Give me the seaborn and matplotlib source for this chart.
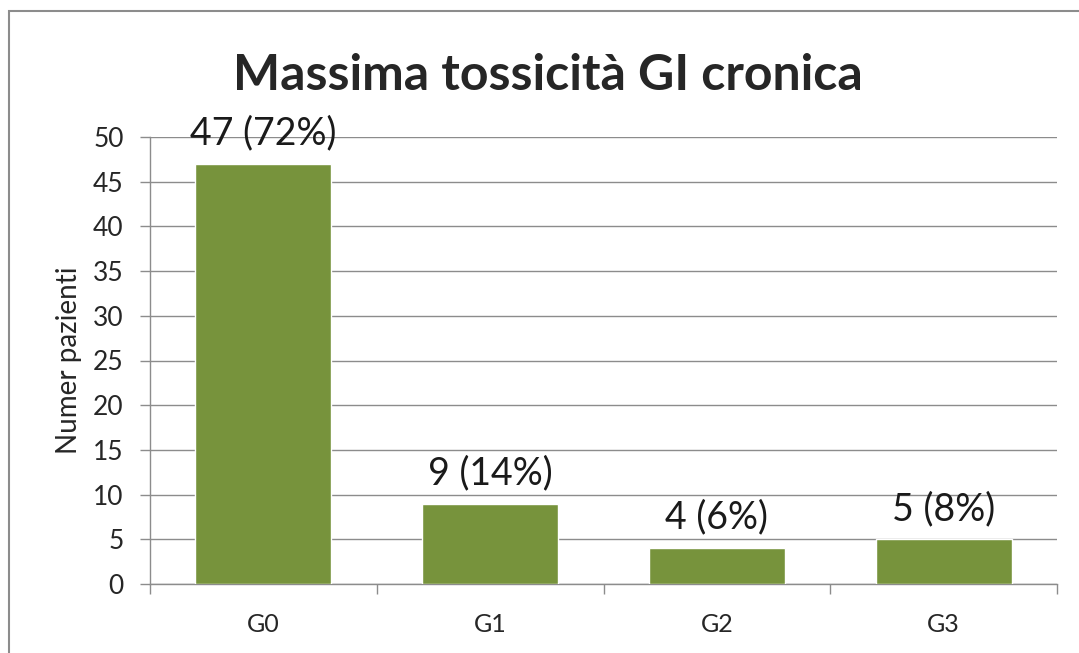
import matplotlib
matplotlib.use("Agg")
import matplotlib.pyplot as plt
import seaborn as sns
import pandas as pd
from matplotlib.patches import Rectangle

categories = ["G0", "G1", "G2", "G3"]
patients = [47, 9, 4, 5]
percent = [72, 14, 6, 8]
y_ticks = [0, 5, 10, 15, 20, 25, 30, 35, 40, 45, 50]

sns.set_theme(style="white")
plt.rcParams["font.family"] = ["Lato", "DejaVu Sans"]

df = pd.DataFrame({"grade": categories, "n": patients})

fig = plt.figure(figsize=(10.79, 6.53), dpi=100)
ax = fig.add_axes([150 / 1079, 69 / 653, 907 / 1079, 447 / 653])

sns.barplot(data=df, x="grade", y="n", color="#77933C", width=0.6,
            saturation=1, ax=ax, zorder=3)

labels = [f"{n} ({p}%)" for n, p in zip(patients, percent)]
ax.bar_label(ax.containers[0], labels=labels, padding=9, fontsize=27,
             color="#1a1a1a")

ax.set_xlim(-0.5, 3.5)
ax.set_ylim(0, 50)
ax.set_yticks(y_ticks)
ax.tick_params(axis="y", length=7, width=1, color="#8c8c8c", labelsize=19,
               left=True, pad=12)
ax.set_xticks(range(len(categories)))
ax.set_xticks([-0.5, 0.5, 1.5, 2.5, 3.5], minor=True)
ax.tick_params(axis="x", which="major", length=0, labelsize=18, pad=21)
ax.tick_params(axis="x", which="minor", length=7, width=1, color="#8c8c8c",
               bottom=True)
ax.yaxis.grid(True, color="#8c8c8c", linewidth=1, zorder=0)
ax.set_axisbelow(True)

for side in ["top", "right"]:
    ax.spines[side].set_visible(False)
for side in ["left", "bottom"]:
    ax.spines[side].set_color("#8c8c8c")
    ax.spines[side].set_linewidth(1)

ax.set_xlabel("")
ax.set_ylabel("Numer pazienti", fontsize=20, labelpad=8)

fig.text(548 / 1079, 1 - 75 / 653, "Massima tossicità GI cronica",
         ha="center", va="center", fontsize=36, fontweight="bold")

# outer chart border (cropped on right and bottom)
fig.patches.append(Rectangle((9 / 1079, -0.1), 1.2, (653 - 11) / 653 + 0.1,
                             transform=fig.transFigure, fill=False,
                             edgecolor="#8c8c8c", linewidth=1.5))

fig.savefig("out.png", dpi=100)
